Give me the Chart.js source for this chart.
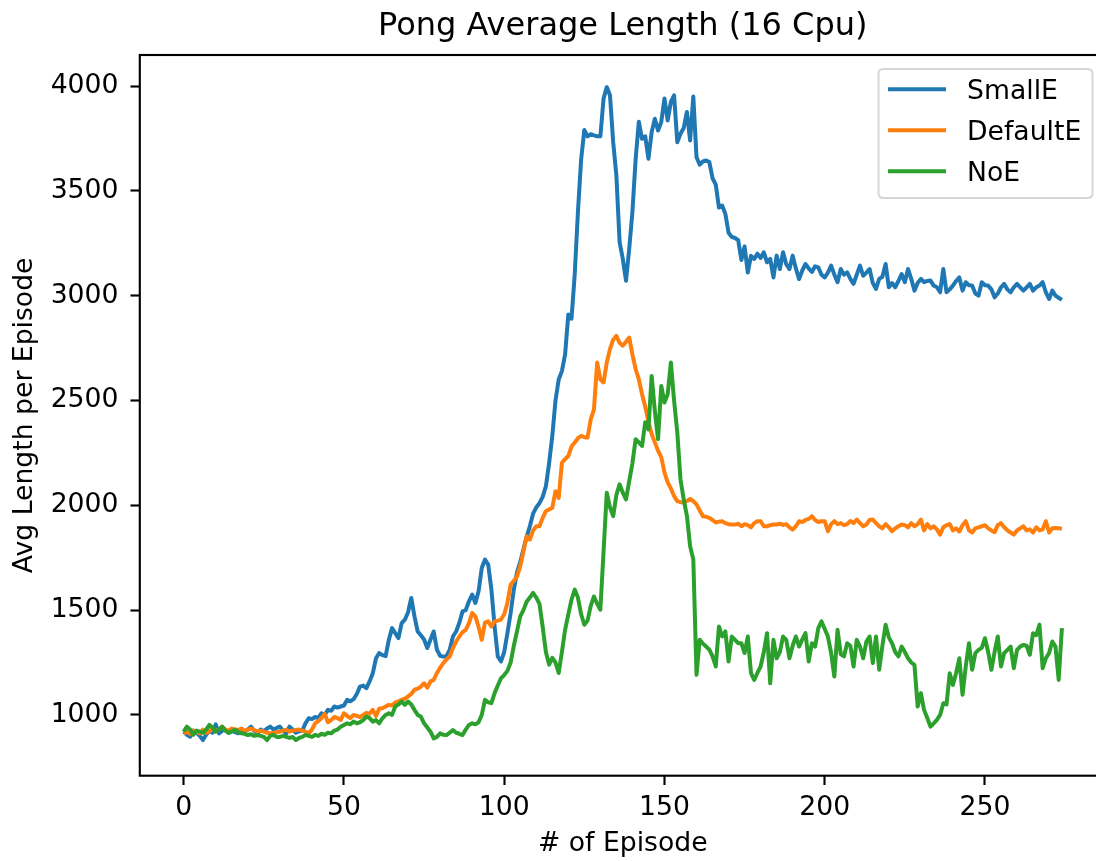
<!DOCTYPE html>
<html>
<head>
<meta charset="utf-8">
<script src="https://cdn.jsdelivr.net/npm/chart.js@4/dist/chart.umd.min.js"></script>
<style>
html,body{margin:0;padding:0;background:#fff;overflow:hidden;width:1096px;height:861px}
#wrap{position:relative;width:1096px;height:861px;overflow:hidden}
canvas{position:absolute;left:0;top:0}
</style>
</head>
<body>
<div id="wrap"><canvas id="c" width="1110" height="861"></canvas></div>
<script>
const chartTitle = 'Pong Average Length (16 Cpu)';
const xLabel = '# of Episode';
const yLabel = 'Avg Length per Episode';
const seriesNames = ['SmallE', 'DefaultE', 'NoE'];
const xTicks = [0, 50, 100, 150, 200, 250];
const yTicks = [1000, 1500, 2000, 2500, 3000, 3500, 4000];

const smallE = [
920, 905, 896, 925, 915, 900, 880, 905, 925, 915,
955, 912, 925, 930, 915, 925, 918, 912, 925, 920,
930, 944, 925, 912, 930, 922, 935, 944, 930, 938,
944, 925, 912, 944, 930, 915, 922, 925, 960, 984,
980, 990, 985, 1008, 1000, 1024, 1020, 1040, 1035, 1040,
1045, 1072, 1065, 1075, 1100, 1135, 1140, 1128, 1160, 1199,
1270, 1295, 1285, 1280, 1358, 1414, 1390, 1366, 1438, 1454,
1490, 1558, 1470, 1398, 1380, 1360, 1319, 1360, 1398, 1311,
1282, 1278, 1280, 1311, 1374, 1398, 1440, 1494, 1500, 1542,
1574, 1534, 1590, 1701, 1741, 1717, 1598, 1422, 1279, 1255,
1300, 1390, 1486, 1598, 1680, 1730, 1790, 1850, 1900, 1960,
1990, 2010, 2040, 2090, 2200, 2330, 2500, 2600, 2640, 2720,
2910, 2890, 3100, 3400, 3650, 3790, 3760, 3770, 3765, 3760,
3760, 3940, 3995, 3956, 3732, 3573, 3255, 3175, 3071, 3223,
3400, 3650, 3830, 3748, 3760, 3653, 3780, 3844, 3788, 3828,
3940, 3836, 3924, 3956, 3732, 3772, 3800, 3876, 3740, 3950,
3660, 3625, 3640, 3645, 3637, 3560, 3530, 3420, 3430, 3390,
3300, 3280, 3275, 3265, 3170, 3235, 3110, 3190, 3175, 3200,
3180, 3207, 3159, 3175, 3087, 3191, 3127, 3207, 3150, 3127,
3191, 3130, 3079, 3120, 3151, 3130, 3113, 3140, 3135, 3100,
3087, 3110, 3143, 3100, 3064, 3127, 3100, 3111, 3080, 3056,
3100, 3143, 3095, 3110, 3127, 3060, 3032, 3080, 3090, 3151,
3040, 3060, 3040, 3070, 3103, 3064, 3127, 3080, 3024, 3060,
3080, 3064, 3070, 3072, 3048, 3040, 3016, 3127, 3016, 3030,
3048, 3070, 3087, 3024, 3064, 3050, 3048, 3010, 3000, 3064,
3050, 3048, 3030, 2992, 3010, 3040, 3056, 3030, 3016, 3040,
3056, 3040, 3024, 3040, 3056, 3024, 3040, 3048, 3064, 3016,
2984, 3024, 3000, 2990, 2980
];

const defaultE = [
912, 920, 910, 925, 918, 912, 930, 915, 920, 935,
925, 930, 944, 930, 925, 935, 930, 928, 935, 925,
930, 935, 928, 920, 925, 920, 915, 912, 915, 918,
920, 925, 930, 920, 925, 928, 930, 925, 920, 912,
930, 960, 970, 985, 1005, 965, 975, 990, 985, 976,
1008, 995, 985, 1000, 995, 990, 1000, 1010, 1005, 1024,
995, 1030, 1032, 1040, 1048, 1045, 1060, 1065, 1072, 1078,
1088, 1100, 1120, 1125, 1135, 1151, 1130, 1160, 1167, 1200,
1225, 1247, 1265, 1279, 1319, 1350, 1374, 1395, 1406, 1438,
1486, 1470, 1420, 1358, 1440, 1446, 1422, 1446, 1450, 1455,
1480, 1534, 1621, 1640, 1661, 1709, 1780, 1852, 1836, 1880,
1900, 1900, 1940, 1972, 1980, 1988, 2067, 2035, 2203, 2220,
2235, 2280, 2299, 2320, 2331, 2325, 2323, 2410, 2458, 2681,
2600, 2586, 2681, 2745, 2790, 2808, 2775, 2761, 2780, 2800,
2720, 2650, 2601, 2530, 2470, 2400, 2340, 2300, 2260, 2230,
2157, 2109, 2080, 2044, 2020, 2015, 2012, 2020, 2031, 2020,
2004, 1975, 1948, 1945, 1940, 1930, 1918, 1922, 1924, 1915,
1910, 1908, 1908, 1912, 1900, 1910, 1905, 1895, 1915, 1924,
1924, 1900, 1900, 1905, 1908, 1908, 1912, 1906, 1910, 1895,
1884, 1900, 1924, 1920, 1930, 1935, 1948, 1930, 1920, 1924,
1924, 1876, 1910, 1924, 1910, 1915, 1905, 1910, 1925, 1915,
1932, 1915, 1900, 1908, 1930, 1932, 1915, 1900, 1890, 1910,
1895, 1876, 1890, 1900, 1908, 1905, 1895, 1915, 1900, 1910,
1932, 1880, 1910, 1890, 1900, 1885, 1860, 1895, 1905, 1910,
1880, 1890, 1875, 1905, 1924, 1880, 1870, 1890, 1895, 1900,
1905, 1890, 1880, 1872, 1905, 1915, 1895, 1880, 1870, 1860,
1880, 1890, 1900, 1880, 1885, 1870, 1895, 1880, 1885, 1924,
1870, 1890, 1892, 1890, 1888
];

const noE = [
920, 944, 930, 905, 925, 920, 915, 930, 952, 940,
920, 930, 944, 925, 915, 920, 930, 918, 912, 910,
904, 908, 900, 904, 900, 895, 880, 900, 905, 895,
895, 900, 895, 890, 895, 880, 890, 895, 905, 900,
895, 905, 900, 910, 905, 915, 912, 925, 930, 944,
952, 960, 955, 968, 960, 965, 975, 992, 985, 968,
975, 960, 984, 1000, 1008, 1000, 1040, 1050, 1064, 1048,
1064, 1050, 1024, 1000, 992, 960, 940, 920, 888, 895,
912, 905, 904, 915, 928, 915, 910, 904, 930, 952,
960, 955, 965, 1000, 1072, 1060, 1056, 1104, 1140, 1175,
1190, 1210, 1250, 1330, 1400, 1470, 1500, 1540, 1560, 1582,
1560, 1530, 1420, 1300, 1240, 1272, 1250, 1200, 1300, 1406,
1480, 1550, 1598, 1560, 1480, 1430, 1450, 1520, 1565, 1530,
1502, 1780, 2060, 1990, 1948, 2050, 2100, 2060, 2028, 2115,
2200, 2315, 2300, 2283, 2396, 2362, 2617, 2450, 2315, 2569,
2490, 2530, 2681, 2500, 2348, 2123, 2028, 1950, 1805, 1741,
1191, 1358, 1340, 1326, 1311, 1279, 1231, 1422, 1374, 1398,
1255, 1374, 1358, 1342, 1342, 1295, 1374, 1199, 1167, 1200,
1231, 1300, 1390, 1151, 1358, 1270, 1300, 1374, 1358, 1270,
1330, 1374, 1326, 1360, 1390, 1255, 1342, 1326, 1414, 1446,
1410, 1374, 1295, 1183, 1406, 1290, 1279, 1342, 1330, 1231,
1358, 1326, 1270, 1350, 1374, 1247, 1374, 1215, 1330, 1430,
1370, 1342, 1300, 1279, 1326, 1300, 1270, 1250, 1239, 1040,
1104, 1024, 985, 944, 960, 976, 1000, 1056, 1050, 1199,
1143, 1200, 1270, 1096, 1231, 1342, 1215, 1295, 1310, 1320,
1366, 1300, 1215, 1300, 1374, 1231, 1295, 1310, 1326, 1223,
1310, 1326, 1334, 1330, 1287, 1390, 1380, 1430, 1223, 1270,
1295, 1350, 1326, 1167, 1414
];

const seriesValues = [smallE, defaultE, noE];
const seriesColors = ['#1f77b4', '#ff7f0e', '#2ca02c'];
const FONT = 'DejaVu Sans';
const tickFont = {family: FONT, size: 26.67, lineHeight: 1.2};

const toPoints = arr => arr.map((v, i) => ({x: i, y: v}));

const frame = {
  id: 'frame',
  afterDatasetsDraw(chart) {
    const {ctx, chartArea: a} = chart;
    ctx.save();
    ctx.strokeStyle = '#000';
    ctx.lineWidth = 2.13;
    ctx.strokeRect(a.left, a.top, a.right - a.left, a.bottom - a.top);
    ctx.restore();
  }
};

const mplLegend = {
  id: 'mplLegend',
  afterDraw(chart) {
    const {ctx} = chart;
    const bx = 878.5, by = 69, bw = 214, bh = 129, r = 5;
    ctx.save();
    ctx.beginPath();
    ctx.moveTo(bx + r, by);
    ctx.lineTo(bx + bw - r, by);
    ctx.quadraticCurveTo(bx + bw, by, bx + bw, by + r);
    ctx.lineTo(bx + bw, by + bh - r);
    ctx.quadraticCurveTo(bx + bw, by + bh, bx + bw - r, by + bh);
    ctx.lineTo(bx + r, by + bh);
    ctx.quadraticCurveTo(bx, by + bh, bx, by + bh - r);
    ctx.lineTo(bx, by + r);
    ctx.quadraticCurveTo(bx, by, bx + r, by);
    ctx.closePath();
    ctx.fillStyle = 'rgba(255,255,255,0.8)';
    ctx.fill();
    ctx.strokeStyle = 'rgba(204,204,204,0.8)';
    ctx.lineWidth = 2;
    ctx.stroke();
    const rows = [89.3, 130.3, 171.3];
    chart.data.datasets.forEach((ds, i) => {
      const y = rows[i];
      ctx.beginPath();
      ctx.moveTo(888, y);
      ctx.lineTo(946, y);
      ctx.strokeStyle = ds.borderColor;
      ctx.lineWidth = 4;
      ctx.lineCap = 'butt';
      ctx.stroke();
      ctx.fillStyle = '#000';
      ctx.font = '26.67px "DejaVu Sans"';
      ctx.textBaseline = 'alphabetic';
      ctx.textAlign = 'left';
      ctx.fillText(ds.label, 967, y + 10);
    });
    ctx.restore();
  }
};

new Chart(document.getElementById('c'), {
  type: 'line',
  data: {
    datasets: seriesNames.map((name, i) => ({
      label: name,
      data: toPoints(seriesValues[i]),
      borderColor: seriesColors[i],
      backgroundColor: seriesColors[i],
      borderWidth: 4,
      pointRadius: 0,
      pointHoverRadius: 0,
      tension: 0,
      fill: false,
      borderJoinStyle: 'round',
      order: 3 - i
    }))
  },
  options: {
    responsive: false,
    animation: false,
    devicePixelRatio: 1,
    events: [],
    layout: {padding: {left: 0, right: 4.2, top: 0, bottom: 0}},
    plugins: {
      legend: {display: false},
      tooltip: {enabled: false},
      title: {
        display: true,
        text: chartTitle,
        fullSize: false,
        color: '#000',
        font: {family: FONT, size: 32, weight: 'normal', lineHeight: 1.2},
        padding: {top: 7.8, bottom: 8.8}
      }
    },
    scales: {
      x: {
        type: 'linear',
        min: -13.7,
        max: 287.7,
        afterBuildTicks: s => { s.ticks = xTicks.map(v => ({value: v})); },
        afterFit: s => { s.height = 85.3; },
        ticks: {font: tickFont, color: '#000', padding: 7, maxRotation: 0, autoSkip: false,
                callback: v => String(v)},
        grid: {display: true, drawOnChartArea: false, drawTicks: true, tickLength: 9.33,
               tickWidth: 2.13, tickColor: '#000'},
        border: {display: false},
        title: {display: true, text: xLabel, color: '#000',
                font: {family: FONT, size: 26.67, lineHeight: 1.2}, padding: {top: 0, bottom: 1}}
      },
      y: {
        type: 'linear',
        min: 710,
        max: 4148,
        afterBuildTicks: s => { s.ticks = yTicks.map(v => ({value: v})); },
        afterFit: s => { s.width = 139.8; },
        ticks: {font: tickFont, color: '#000', padding: 12, autoSkip: false,
                callback: v => String(v)},
        grid: {display: true, drawOnChartArea: false, drawTicks: true, tickLength: 9.33,
               tickWidth: 2.13, tickColor: '#000'},
        border: {display: false},
        title: {display: true, text: yLabel, color: '#000',
                font: {family: FONT, size: 26.67, lineHeight: 1.2}, padding: {top: 9, bottom: 0}}
      }
    }
  },
  plugins: [frame, mplLegend]
});
</script>
</body>
</html>
